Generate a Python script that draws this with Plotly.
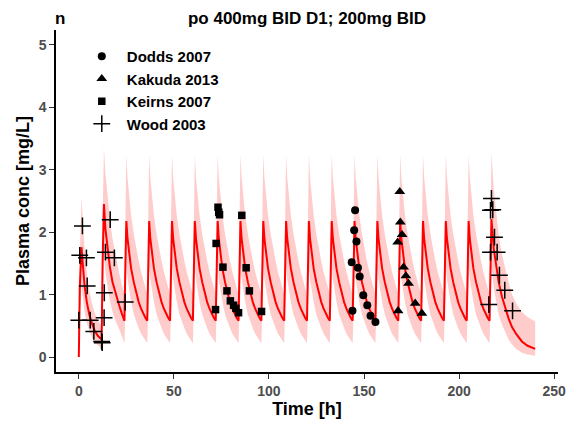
import plotly.graph_objects as go

dodds_t = [143.9, 143.5, 144.8, 145.3, 146.0, 146.8, 147.7, 149.6, 151.7, 153.4, 156.0]
dodds_c = [0.74, 1.52, 2.03, 2.35, 1.85, 1.43, 1.29, 0.99, 0.83, 0.66, 0.56]

kakuda_t = [167.9, 167.7, 168.8, 169.1, 170.0, 170.8, 172.0, 173.4, 176.9, 180.4]
kakuda_c = [0.74, 1.84, 2.65, 2.16, 1.96, 1.44, 1.30, 1.18, 0.86, 0.70]

keirns_t = [71.9, 72.2, 73.2, 73.6, 74.0, 75.8, 77.9, 79.7, 81.4, 82.6, 84.0, 85.7, 88.0, 89.7, 96.1]
keirns_c = [0.76, 1.82, 2.40, 2.32, 2.28, 1.44, 1.06, 0.90, 0.83, 0.78, 0.71, 2.27, 1.43, 1.06, 0.73]

wood_t = [0.0, 0.5, 1.9, 4.0, 4.4, 6.0, 7.9, 12.0, 12.3, 13.3, 13.4, 14.0, 16.5, 18.7, 24.4,
          215.6, 216.5, 216.5, 217.0, 217.7, 218.6, 220.0, 221.2, 224.0, 228.1]
wood_c = [0.59, 1.63, 2.10, 1.59, 1.14, 0.59, 0.41, 0.25, 0.23, 0.63, 1.03, 1.68, 2.20, 1.59, 0.88,
          0.84, 2.35, 1.68, 2.54, 2.36, 1.92, 1.68, 1.31, 1.07, 0.74]

# ---------------- model profiles ----------------
dose_times = [0, 12, 24, 36, 48, 60, 72, 84, 96, 108, 120, 132, 144, 156, 168, 180, 192, 204, 216]

# first 400 mg dose (0-12 h)
off1 = [0, 0.5, 1.4, 2.2, 3.0, 4.2, 5.6, 7.0, 8.2, 10.0, 12.0]
med1 = [0.0, 1.10, 1.76, 1.42, 1.15, 0.88, 0.67, 0.53, 0.43, 0.34, 0.28]
up1 = [0.0, 1.60, 2.56, 2.10, 1.75, 1.35, 1.05, 0.85, 0.72, 0.58, 0.48]
lo1 = [0.0, 0.60, 1.15, 0.92, 0.72, 0.54, 0.40, 0.30, 0.24, 0.18, 0.13]

# second 400 mg dose (12-24 h)
off2 = [0, 0.5, 1.2, 2.0, 3.1, 4.3, 5.7, 7.4, 9.2, 10.6, 12.0]
med2 = [0.28, 1.50, 2.45, 2.05, 1.74, 1.45, 1.20, 1.00, 0.83, 0.70, 0.59]
up2 = [0.48, 2.20, 3.35, 2.95, 2.60, 2.22, 1.90, 1.60, 1.35, 1.16, 1.00]
lo2 = [0.13, 0.85, 1.65, 1.35, 1.12, 0.90, 0.72, 0.57, 0.45, 0.34, 0.25]

# 200 mg maintenance doses
offs = [0, 0.5, 1.0, 1.6, 2.3, 3.5, 4.9, 6.2, 7.5, 8.8, 10.1, 11.0, 12.0]
meds = [0.58, 1.50, 2.18, 1.90, 1.68, 1.42, 1.20, 1.03, 0.88, 0.77, 0.68, 0.63, 0.58]
ups = [1.00, 2.20, 3.25, 2.88, 2.62, 2.27, 1.97, 1.74, 1.54, 1.36, 1.20, 1.10, 1.00]
los = [0.22, 0.75, 1.45, 1.25, 1.08, 0.88, 0.68, 0.56, 0.46, 0.37, 0.30, 0.26, 0.22]

# last dose (216-240 h)
offf = [0, 0.5, 1.0, 2.2, 3.4, 4.8, 6.5, 8.3, 10.0, 11.8, 14.0, 17.0, 20.0, 24.0]
medf = [0.58, 1.50, 2.21, 1.74, 1.45, 1.20, 0.97, 0.78, 0.62, 0.48, 0.37, 0.25, 0.18, 0.13]
upf = [1.00, 2.20, 3.28, 2.70, 2.30, 1.95, 1.65, 1.40, 1.20, 1.00, 0.86, 0.72, 0.64, 0.57]
lof = [0.22, 0.75, 1.45, 1.10, 0.88, 0.68, 0.52, 0.38, 0.28, 0.20, 0.13, 0.07, 0.04, 0.02]

t_model, c_med, c_lo, c_up = [], [], [], []


def add_interval(t0, off, m, lo, up):
    for o, a, b, c in zip(off, m, lo, up):
        t_model.append(t0 + o)
        c_med.append(a)
        c_lo.append(b)
        c_up.append(c)


add_interval(dose_times[0], off1, med1, lo1, up1)
add_interval(dose_times[1], off2, med2, lo2, up2)
for d in dose_times[2:-1]:
    add_interval(d, offs, meds, los, ups)
add_interval(dose_times[-1], offf, medf, lof, upf)

x_ticks = [0, 50, 100, 150, 200, 250]
y_ticks = [0, 1, 2, 3, 4, 5]

FONT = "Liberation Sans, Arial, sans-serif"

fig = go.Figure()

fig.add_trace(go.Scatter(x=t_model, y=c_lo, mode="lines", line=dict(width=0, color="rgba(0,0,0,0)"),
                         showlegend=False, hoverinfo="skip"))
fig.add_trace(go.Scatter(x=t_model, y=c_up, mode="lines", line=dict(width=0, color="rgba(0,0,0,0)"),
                         fill="tonexty", fillcolor="rgba(255,0,0,0.2)", showlegend=False, hoverinfo="skip"))
fig.add_trace(go.Scatter(x=t_model, y=c_med, mode="lines", line=dict(width=2, color="#FF0000"),
                         showlegend=False))

fig.add_trace(go.Scatter(x=dodds_t, y=dodds_c, mode="markers", name="Dodds 2007", legendgroup="a",
                         marker=dict(symbol="circle", size=8, color="black")))
fig.add_trace(go.Scatter(x=kakuda_t, y=kakuda_c, mode="markers", name="Kakuda 2013", legendgroup="b",
                         marker=dict(symbol="triangle-up", size=9.5, color="black")))
fig.add_trace(go.Scatter(x=keirns_t, y=keirns_c, mode="markers", name="Keirns 2007", legendgroup="c",
                         marker=dict(symbol="square", size=7.5, color="black")))
fig.add_trace(go.Scatter(x=wood_t, y=wood_c, mode="markers", name="Wood 2003", legendgroup="d",
                         marker=dict(symbol="cross-thin", size=12, color="black",
                                     line=dict(width=1.5, color="black"))))

axis_common = dict(showline=True, linewidth=1.5, linecolor="black", ticks="outside", ticklen=5,
                   tickwidth=1.2, tickcolor="#333333", showgrid=False, zeroline=False,
                   tickfont=dict(family=FONT, size=14, color="#4D4D4D", weight="bold"))

plot_w = 578 - 56 - 15
plot_h = 428 - 30 - 55

fig.update_layout(
    width=578, height=428,
    margin=dict(l=56, r=15, t=30, b=55),
    plot_bgcolor="white", paper_bgcolor="white",
    title=dict(text="<b>po 400mg BID D1; 200mg BID</b>", x=0.5, xref="paper", y=1 - 18 / 428,
               yref="container", yanchor="middle", xanchor="center",
               font=dict(family=FONT, size=17, color="black")),
    xaxis=dict(range=[-12, 252], tickvals=x_ticks, ticktext=[str(v) for v in x_ticks],
               title=dict(text="<b>Time [h]</b>", font=dict(family=FONT, size=18, color="black"), standoff=5),
               **axis_common),
    yaxis=dict(range=[-0.24, 5.24], tickvals=y_ticks, ticktext=[str(v) for v in y_ticks],
               title=dict(text="<b>Plasma conc [mg/L]</b>", font=dict(family=FONT, size=18, color="black"),
                          standoff=4),
               **axis_common),
    legend=dict(x=(77 - 56) / plot_w, y=1 - (40 - 30) / plot_h, xanchor="left", yanchor="top",
                bgcolor="rgba(0,0,0,0)", itemwidth=40,
                font=dict(family=FONT, size=15, color="black", weight="bold"), tracegroupgap=0),
    annotations=[dict(text="<b>n</b>", x=(60 - 56) / plot_w, y=1 + (30 - 18) / plot_h,
                      xref="paper", yref="paper", showarrow=False, xanchor="center", yanchor="middle",
                      font=dict(family=FONT, size=17, color="black"))],
)

fig.write_html("out.html")
